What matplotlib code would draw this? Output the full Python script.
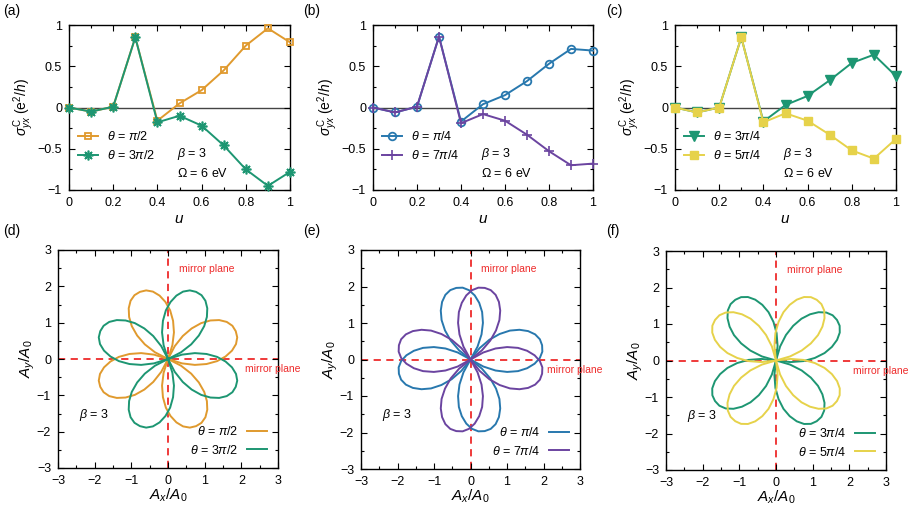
import numpy as np
import matplotlib
matplotlib.use("Agg")
import matplotlib.pyplot as plt
from matplotlib.ticker import MultipleLocator, FuncFormatter
from matplotlib.transforms import Affine2D

plt.rcParams['font.family'] = ['Liberation Sans', 'DejaVu Sans']
plt.rcParams['mathtext.fontset'] = 'custom'
plt.rcParams['mathtext.rm'] = 'Liberation Sans'
plt.rcParams['mathtext.it'] = 'Liberation Sans:italic'
plt.rcParams['axes.unicode_minus'] = True

# ---- top row data: sigma_yx^C vs u ----
u = [0.0, 0.1, 0.2, 0.3, 0.4, 0.5, 0.6, 0.7, 0.8, 0.9, 1.0]
sig_pi2 = [0.0, -0.05, 0.01, 0.85, -0.16, 0.05, 0.21, 0.45, 0.75, 0.96, 0.79]
sig_3pi2 = [0.0, -0.05, 0.01, 0.85, -0.18, -0.10, -0.22, -0.46, -0.75, -0.95, -0.78]
sig_pi4 = [0.0, -0.06, 0.01, 0.86, -0.17, 0.04, 0.15, 0.32, 0.53, 0.71, 0.69]
sig_7pi4 = [0.0, -0.06, 0.01, 0.86, -0.19, -0.08, -0.16, -0.33, -0.53, -0.70, -0.68]
sig_3pi4 = [0.0, -0.06, 0.0, 0.85, -0.17, 0.03, 0.14, 0.33, 0.54, 0.64, 0.38]
sig_5pi4 = [0.0, -0.06, 0.0, 0.85, -0.18, -0.07, -0.16, -0.33, -0.52, -0.62, -0.38]

# ---- bottom row data: one lobe of the A(t) curve (polar profile) ----
lobe_ang = [-45, -40, -35, -30, -25, -20, -15, -10, -5, 0,
            5, 10, 15, 20, 25, 30, 35, 40, 45]
lobe_r = [0.0, 0.40, 0.75, 1.06, 1.34, 1.57, 1.76, 1.90, 1.98, 2.0,
          1.98, 1.90, 1.76, 1.57, 1.34, 1.06, 0.75, 0.40, 0.0]
# lobe tip directions (deg) for each theta
tips_pi2 = [22.5, 112.5, 202.5, 292.5]
tips_3pi2 = [67.5, 157.5, 247.5, 337.5]
tips_pi4 = [11.25, 101.25, 191.25, 281.25]
tips_7pi4 = [78.75, 168.75, 258.75, 348.75]
tips_3pi4 = [33.75, 123.75, 213.75, 303.75]
tips_5pi4 = [56.25, 146.25, 236.25, 326.25]

ORANGE = '#E09A2E'
GREEN = '#1D9672'
BLUE = '#2878AE'
PURPLE = '#6B44A0'
YELLOW = '#E6D24A'
RED = '#EE2B2B'

W, H = 915, 514
fig = plt.figure(figsize=(W / 100, H / 100), dpi=100)


def add_ax(x0, y0, x1, y1):
    return fig.add_axes([x0 / W, 1 - y1 / H, (x1 - x0) / W, (y1 - y0) / H])


fmt = FuncFormatter(lambda v, p: f'{v:g}'.replace('-', '\u2212'))


def style(ax):
    ax.tick_params(which='both', direction='in', top=True, right=True,
                   labelsize=9, width=0.8, pad=5)
    ax.tick_params(which='major', length=4)
    ax.tick_params(which='minor', length=2.5)
    for s in ax.spines.values():
        s.set_linewidth(1.0)
    ax.xaxis.set_major_formatter(fmt)
    ax.yaxis.set_major_formatter(fmt)


top_boxes = [(69, 25, 290, 190), (373, 25, 593, 190), (675, 25, 896, 190)]
top_series = [
    [(sig_pi2, ORANGE, 's', r'$\theta$ = $\pi$/2', dict(mfc='none', ms=5, mew=1.3)),
     (sig_3pi2, GREEN, (8, 2, 0), r'$\theta$ = 3$\pi$/2', dict(ms=7, mew=1.2))],
    [(sig_pi4, BLUE, 'o', r'$\theta$ = $\pi$/4', dict(mfc='none', ms=5.5, mew=1.3)),
     (sig_7pi4, PURPLE, '+', r'$\theta$ = 7$\pi$/4', dict(ms=7, mew=1.2))],
    [(sig_3pi4, GREEN, 'v', r'$\theta$ = 3$\pi$/4', dict(ms=7)),
     (sig_5pi4, YELLOW, 's', r'$\theta$ = 5$\pi$/4', dict(ms=5.5))],
]
labels_top = ['(a)', '(b)', '(c)']
labels_bot = ['(d)', '(e)', '(f)']
label_x = [3, 303, 606]

for k, (box, series) in enumerate(zip(top_boxes, top_series)):
    ax = add_ax(*box)
    ax.axhline(0, color='#444444', lw=1.0, zorder=1)
    for y, c, m, lab, kw in series:
        ax.plot(u, y, color=c, marker=m, lw=1.4, label=lab, clip_on=False,
                zorder=3, **kw)
    ax.set_xlim(0, 1)
    ax.set_ylim(-1, 1)
    ax.xaxis.set_major_locator(MultipleLocator(0.2))
    ax.xaxis.set_minor_locator(MultipleLocator(0.1))
    ax.yaxis.set_major_locator(MultipleLocator(0.5))
    ax.yaxis.set_minor_locator(MultipleLocator(0.25))
    style(ax)
    ax.set_xlabel(r'$u$', fontsize=11, labelpad=2)
    ax.set_ylabel(r'$\sigma_{yx}^{\mathrm{C}}$ (e$^2$/$h$)', fontsize=10, labelpad=1)
    ax.legend(loc='upper left', bbox_to_anchor=(-0.01, 0.43), frameon=False,
              fontsize=9, handlelength=1.6, handletextpad=0.7, labelspacing=0.45)
    ax.text(0.49, -0.56, r'$\beta$ = 3', fontsize=9, va='center')
    ax.text(0.49, -0.80, r'$\Omega$ = 6 eV', fontsize=9, va='center')
    fig.text(label_x[k] / W, 1 - 11 / H, labels_top[k], fontsize=10, va='center')

bot_boxes = [(58, 250, 278, 468), (361, 250, 580, 469), (666, 251, 886, 470)]
bot_series = [
    [(tips_pi2, ORANGE, r'$\theta$ = $\pi$/2'), (tips_3pi2, GREEN, r'$\theta$ = 3$\pi$/2')],
    [(tips_pi4, BLUE, r'$\theta$ = $\pi$/4'), (tips_7pi4, PURPLE, r'$\theta$ = 7$\pi$/4')],
    [(tips_3pi4, GREEN, r'$\theta$ = 3$\pi$/4'), (tips_5pi4, YELLOW, r'$\theta$ = 5$\pi$/4')],
]
ang = np.deg2rad(lobe_ang)
lx = np.array(lobe_r) * np.cos(ang)
ly = np.array(lobe_r) * np.sin(ang)

for k, (box, series) in enumerate(zip(bot_boxes, bot_series)):
    ax = add_ax(*box)
    ax.axhline(0, color=RED, lw=1.3, ls=(0, (4, 3)), zorder=1)
    ax.axvline(0, color=RED, lw=1.3, ls=(0, (4, 3)), zorder=1)
    for tips, c, lab in series:
        for i, t in enumerate(tips):
            tr = Affine2D().rotate_deg(t) + ax.transData
            ax.plot(lx, ly, color=c, lw=1.4, transform=tr, zorder=2,
                    label=lab if i == 0 else None, solid_joinstyle='round')
    ax.set_xlim(-3, 3)
    ax.set_ylim(-3, 3)
    for a in (ax.xaxis, ax.yaxis):
        a.set_major_locator(MultipleLocator(1))
        a.set_minor_locator(MultipleLocator(0.5))
    style(ax)
    ax.set_xlabel(r'$A_x/A_0$', fontsize=11, labelpad=0)
    ax.set_ylabel(r'$A_y/A_0$', fontsize=11, labelpad=0)
    ax.text(0.3, 2.48, 'mirror plane', color=RED, fontsize=7.5, va='center')
    ax.text(2.1, -0.28, 'mirror plane', color=RED, fontsize=7.5, va='center',
            clip_on=False)
    ax.text(-2.42, -1.53, r'$\beta$ = 3', fontsize=9, va='center')
    ax.legend(loc='lower right', bbox_to_anchor=(1.0, 0.0), frameon=False,
              fontsize=9, markerfirst=False, handlelength=1.6,
              handletextpad=0.7, labelspacing=0.45)
    fig.text(label_x[k] / W, 1 - 231 / H, labels_bot[k], fontsize=10, va='center')

fig.savefig('out.png', dpi=100)
